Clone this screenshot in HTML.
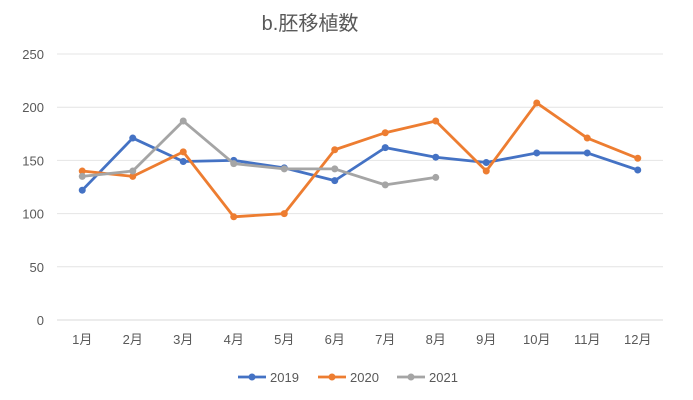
<!DOCTYPE html>
<html><head><meta charset="utf-8"><style>
body{margin:0;background:#fff;}
svg{display:block;font-family:"Liberation Sans","Noto Sans CJK JP",sans-serif;}
</style></head><body>
<svg id="c" width="693" height="400">
<text x="310" y="30" text-anchor="middle" font-size="20" fill="#595959">b.胚移植数</text>
</svg>
<script>
const months=["1月","2月","3月","4月","5月","6月","7月","8月","9月","10月","11月","12月"];
const yTicks=[0,50,100,150,200,250];
const s2019=[122,171,149,150,143,131,162,153,148,157,157,141];
const s2020=[140,135,158,97,100,160,176,187,140,204,171,152];
const s2021=[135,140,187,147,142,142,127,134];
const seriesNames=["2019","2020","2021"];
const seriesColors=["#4472c4","#ed7d31","#a5a5a5"];
const L=57,R=663,T=54,B=320;
const x=i=>L+(R-L)/months.length*(i+0.5);
const y=v=>B-(B-T)*v/250;
const svg=document.getElementById('c');const NS="http://www.w3.org/2000/svg";
function mk(t,a){const e=document.createElementNS(NS,t);for(const k in a)e.setAttribute(k,a[k]);svg.appendChild(e);return e;}
yTicks.forEach(v=>{
 const g=mk('line',{x1:L,x2:R,y1:y(v),y2:y(v),stroke:v===0?'#d9d9d9':'#e4e4e4','stroke-width':1});
 
 
 const t=mk('text',{x:44,y:y(v)+5,'text-anchor':'end','font-size':13,fill:'#595959'});t.textContent=v;
 
 
});
months.forEach((m,i)=>{
 const t=mk('text',{x:x(i),y:344,'text-anchor':'middle','font-size':13,fill:'#595959'});t.textContent=m;
 
 
});
[s2019,s2020,s2021].forEach((s,k)=>{
 const p=mk('polyline',{points:s.map((v,i)=>x(i)+','+y(v)).join(' '),fill:'none',stroke:seriesColors[k],'stroke-width':2.8,'stroke-linejoin':'round'});
 
 
 s.forEach((v,i)=>{
  const c=mk('circle',{cx:x(i),cy:y(v),r:3.5,fill:seriesColors[k]});
  
  
 });
});
const lx=[238,318,397];
seriesNames.forEach((n,k)=>{
 const l=mk('line',{x1:lx[k],x2:lx[k]+28,y1:377,y2:377,stroke:seriesColors[k],'stroke-width':2.8});
 
 
 const c=mk('circle',{cx:lx[k]+14,cy:377,r:3.5,fill:seriesColors[k]});
 
 
 const t=mk('text',{x:lx[k]+32,y:382,'font-size':13,fill:'#595959'});t.textContent=n;
 
 
});
</script>
</body></html>
